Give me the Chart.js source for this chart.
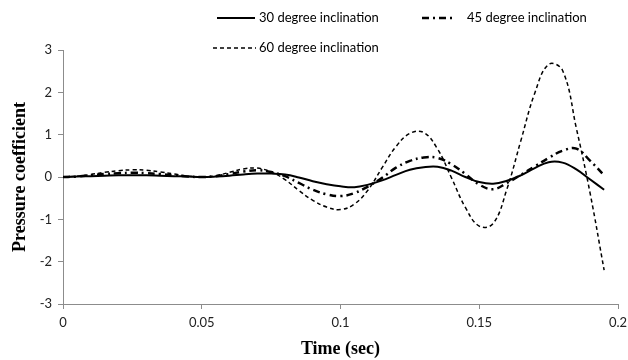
<!DOCTYPE html>
<html>
<head>
<meta charset="utf-8">
<script src="https://cdn.jsdelivr.net/npm/chart.js@4.4.1/dist/chart.umd.min.js"></script>
<style>
  body { margin: 0; background: #fff; }
</style>
</head>
<body>
<canvas id="chart" width="628" height="360"></canvas>
<script>
// time (sec)
const times = [0, 0.005, 0.01, 0.015, 0.02, 0.025, 0.03, 0.035, 0.04, 0.045,
  0.05, 0.055, 0.06, 0.065, 0.07, 0.075, 0.08, 0.085, 0.09, 0.095,
  0.1, 0.105, 0.11, 0.115, 0.12, 0.125, 0.13, 0.135, 0.14, 0.145,
  0.15, 0.155, 0.16, 0.165, 0.17, 0.175, 0.18, 0.185, 0.19, 0.195]

const deg30 = [0, 0.01, 0.02, 0.03, 0.04, 0.04, 0.04, 0.03, 0.02, 0.01,
  0, 0.01, 0.03, 0.06, 0.08, 0.08, 0.06, -0.01, -0.10, -0.17,
  -0.22, -0.24, -0.18, -0.08, 0.05, 0.17, 0.23, 0.24, 0.15, 0,
  -0.12, -0.16, -0.09, 0.04, 0.21, 0.35, 0.34, 0.18, -0.06, -0.30]

const deg45 = [0, 0.01, 0.04, 0.07, 0.09, 0.10, 0.09, 0.07, 0.04, 0.01,
  0, 0.02, 0.07, 0.13, 0.16, 0.12, 0.02, -0.14, -0.30, -0.41,
  -0.45, -0.38, -0.22, -0.02, 0.22, 0.38, 0.46, 0.45, 0.30, 0.07,
  -0.18, -0.29, -0.14, 0.05, 0.25, 0.45, 0.62, 0.67, 0.38, 0.04]

const deg60 = [0, 0.02, 0.06, 0.11, 0.15, 0.17, 0.16, 0.12, 0.07, 0.02,
  0, 0.03, 0.11, 0.19, 0.21, 0.12, -0.06, -0.32, -0.55, -0.71,
  -0.77, -0.64, -0.30, 0.22, 0.72, 1.03, 1.05, 0.66, -0.02, -0.72,
  -1.16, -1.10, -0.28, 0.86, 1.98, 2.66, 2.52, 1.15, -0.40, -2.20]

const seriesNames = ['30 degree inclination', '45 degree inclination', '60 degree inclination']
const xTicks = [0, 0.05, 0.1, 0.15, 0.2]
const yTicks = [-3, -2, -1, 0, 1, 2, 3]

const toPoints = vals => vals.map((v, i) => ({ x: times[i], y: v }))

// legend drawn by hand, two rows like the original
const legendPlugin = {
  id: 'handLegend',
  afterDraw(chart) {
    const ctx = chart.ctx
    const items = [
      { x1: 217, x2: 255, y: 18, tx: 259, dash: [], w: 2, name: seriesNames[0] },
      { x1: 422, x2: 456, y: 18, tx: 467, dash: [7, 4, 2, 4], w: 2.5, name: seriesNames[1] },
      { x1: 213, x2: 256, y: 48, tx: 259, dash: [4, 3], w: 1.5, name: seriesNames[2] }
    ]
    ctx.save()
    items.forEach(it => {
      ctx.beginPath()
      ctx.setLineDash(it.dash)
      ctx.lineWidth = it.w
      ctx.strokeStyle = '#000'
      ctx.moveTo(it.x1, it.y)
      ctx.lineTo(it.x2, it.y)
      ctx.stroke()
      ctx.setLineDash([])
      ctx.fillStyle = '#000'
      ctx.font = '13px Lato'
      ctx.textBaseline = 'middle'
      ctx.textAlign = 'left'
      ctx.fillText(it.name, it.tx, it.y)
    })
    ctx.restore()
  }
}

const tickFont = { family: 'Lato', size: 13 }
const titleFont = { family: 'Liberation Serif', size: 18, weight: 'bold' }

new Chart(document.getElementById('chart'), {
  type: 'line',
  data: {
    datasets: [
      {
        label: seriesNames[0],
        data: toPoints(deg30),
        borderColor: '#000',
        borderWidth: 2,
        borderDash: []
      },
      {
        label: seriesNames[1],
        data: toPoints(deg45),
        borderColor: '#000',
        borderWidth: 2.5,
        borderDash: [7, 4, 2, 4]
      },
      {
        label: seriesNames[2],
        data: toPoints(deg60),
        borderColor: '#000',
        borderWidth: 1.5,
        borderDash: [4, 3]
      }
    ]
  },
  options: {
    responsive: false,
    animation: false,
    elements: {
      point: { radius: 0 },
      line: { tension: 0.4, fill: false }
    },
    layout: { padding: { top: 50, right: 0, left: 0, bottom: 0 } },
    plugins: {
      legend: { display: false },
      tooltip: { enabled: false }
    },
    scales: {
      x: {
        type: 'linear',
        min: 0,
        max: 0.2,
        afterBuildTicks: scale => { scale.ticks = xTicks.map(v => ({ value: v })) },
        ticks: {
          font: tickFont, color: '#222', padding: 6, maxRotation: 0,
          callback: v => String(+v.toFixed(2))
        },
        grid: { drawOnChartArea: false, drawTicks: true, tickLength: 5, color: '#8c8c8c' },
        border: { color: '#8c8c8c', width: 1 },
        title: {
          display: true,
          text: 'Time (sec)',
          color: '#000',
          font: titleFont,
          padding: { top: 1, bottom: 0 }
        },
        afterFit: scale => {
          scale.height = 56
          scale.paddingRight = 10
        }
      },
      y: {
        min: -3,
        max: 3,
        afterBuildTicks: scale => { scale.ticks = yTicks.map(v => ({ value: v })) },
        ticks: { font: tickFont, color: '#222', padding: 6 },
        grid: { drawOnChartArea: false, drawTicks: true, tickLength: 5, color: '#8c8c8c' },
        border: { color: '#8c8c8c', width: 1 },
        title: {
          display: true,
          text: 'Pressure coefficient',
          color: '#000',
          font: titleFont,
          padding: { top: 10, bottom: 4 }
        },
        afterFit: scale => { scale.width = 63 }
      }
    }
  },
  plugins: [legendPlugin]
})
</script>
</body>
</html>
